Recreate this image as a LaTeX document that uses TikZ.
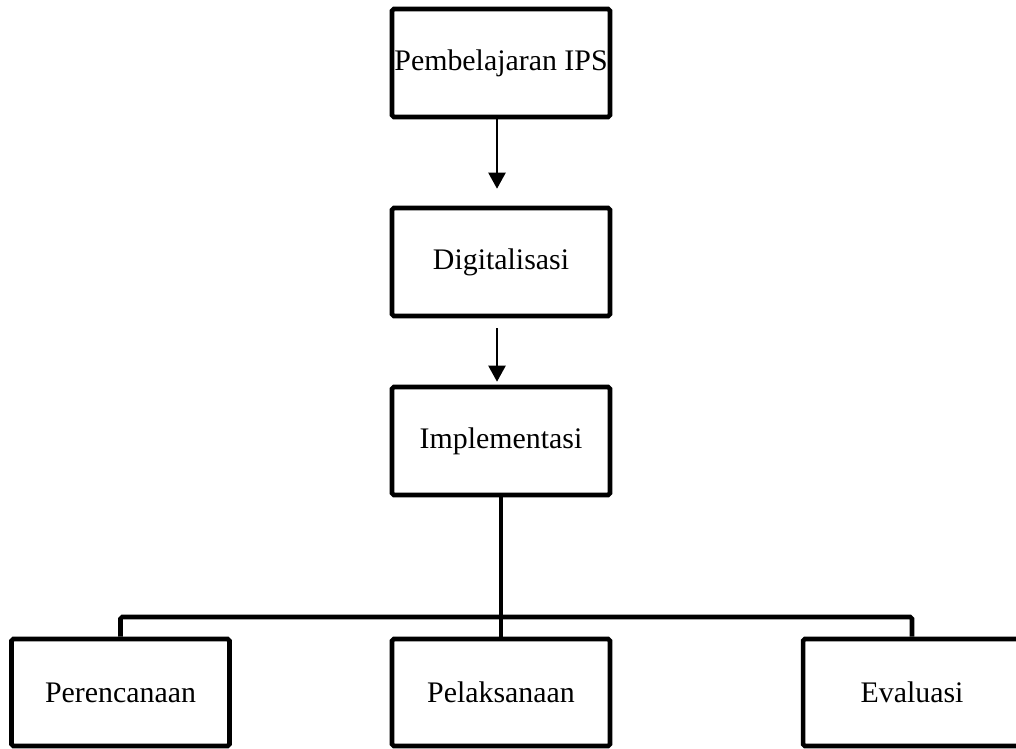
\documentclass[tikz,border=0pt]{standalone}
\usepackage{fontspec}
\setmainfont{Liberation Serif}
\usepackage{tikz}
\usetikzlibrary{
	arrows.meta,
	positioning
}

\begin{document}
\begin{tikzpicture}[x=0.02cm,y=-0.02cm,>={Triangle[length=0.32cm,width=0.34cm]},
	box/.style={draw,line width=2.6pt,rounded corners=1pt,minimum width=4.36cm,
		minimum height=2.16cm,inner sep=0pt,font=\fontsize{17}{20}\selectfont}]
			
			\useasboundingbox (0,0) rectangle (1016,749);
			
			\node[box] (ips) at (501,63) {Pembelajaran IPS};
			\node[box] (digital) at (501,262) {Digitalisasi};
			\node[box] (impl) at (501,441) {Implementasi};
			
			\node[box,minimum height=2.14cm] (plan) at (120.5,692.5) {Perencanaan};
			\node[box,minimum height=2.14cm] (do) at (501,692.5) {Pelaksanaan};
			\node[box,minimum height=2.14cm] (eval) at (912,692.5) {Evaluasi};
			
			\draw[->,line width=1.2pt] ([xshift=-0.08cm]ips.south)--([xshift=-0.08cm,yshift=0.34cm]digital.north);
			\draw[->,line width=1.2pt] ([xshift=-0.08cm,yshift=-0.2cm]digital.south)--([xshift=-0.08cm,yshift=0.06cm]impl.north);
			
			\coordinate (bar) at (501,617);
			\draw[line width=2.6pt] (impl.south)--(bar);
			\draw[line width=2.6pt,rounded corners=1pt] (plan.north)|-(bar)-|(eval.north);
			\draw[line width=2.6pt] (bar)--(do.north);
			
		\end{tikzpicture}
\end{document}
